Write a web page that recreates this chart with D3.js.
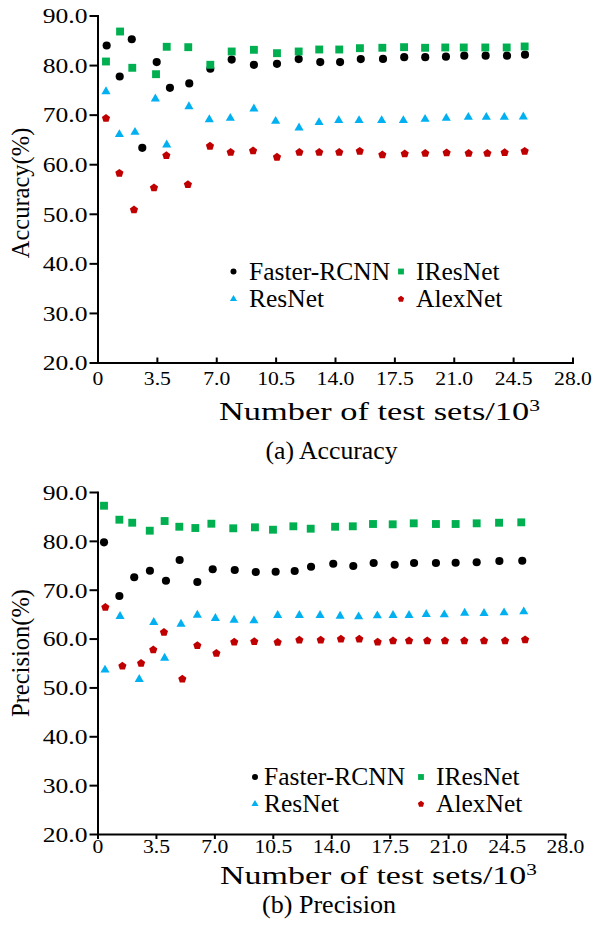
<!DOCTYPE html>
<html>
<head>
<meta charset="utf-8">
<script src="https://cdn.jsdelivr.net/npm/d3@7/dist/d3.min.js"></script>
<style>
  html, body { margin: 0; padding: 0; background: #fff; }
  svg { display: block; font-family: "Liberation Serif", "Times New Roman", serif; }
</style>
</head>
<body>
<svg id="fig" width="595" height="940"></svg>
<script>
// ---------- data ----------
const seriesNames = ["Faster-RCNN", "IResNet", "ResNet", "AlexNet"];
const xTickValues = [0, 3.5, 7, 10.5, 14, 17.5, 21, 24.5, 28];
const yTickValues = [20, 30, 40, 50, 60, 70, 80, 90];

// (a) Accuracy: x = number of test sets (thousands), y = accuracy (%)
const accFasterX = [0.54, 1.31, 2.02, 2.64, 3.49, 4.27, 5.41, 6.65, 7.91, 9.22, 10.58, 11.86, 13.13, 14.30, 15.52, 16.83, 18.08, 19.32, 20.54, 21.62, 22.88, 24.14, 25.20];
const accFasterY = [83.95, 77.7, 85.2, 63.3, 80.6, 75.4, 76.3, 79.25, 81.1, 80.05, 80.25, 81.2, 80.6, 80.6, 81.2, 81.25, 81.6, 81.6, 81.7, 81.9, 81.9, 81.9, 82.1];
const accIResX = [0.50, 1.33, 2.05, 3.45, 4.08, 5.35, 6.65, 7.91, 9.22, 10.58, 11.86, 13.07, 14.25, 15.47, 16.79, 18.07, 19.31, 20.50, 21.59, 22.86, 24.12, 25.18];
const accIResY = [80.72, 86.77, 79.45, 78.16, 83.69, 83.61, 80.06, 82.74, 83.08, 82.40, 82.74, 83.14, 83.14, 83.41, 83.49, 83.61, 83.49, 83.55, 83.55, 83.55, 83.55, 83.75];
const accResX = [0.50, 1.29, 2.21, 3.41, 4.08, 5.39, 6.59, 7.83, 9.22, 10.50, 11.88, 13.06, 14.22, 15.42, 16.75, 18.03, 19.31, 20.56, 21.86, 22.92, 23.98, 25.10];
const accResY = [74.67, 66.0, 66.46, 73.2, 63.92, 71.64, 69.02, 69.28, 71.18, 68.68, 67.35, 68.42, 68.82, 68.82, 68.82, 68.82, 69.08, 69.28, 69.48, 69.48, 69.48, 69.57];
const accAlexX = [0.50, 1.29, 2.15, 3.33, 4.06, 5.33, 6.63, 7.85, 9.17, 10.58, 11.90, 13.07, 14.25, 15.46, 16.79, 18.11, 19.32, 20.58, 21.88, 22.98, 24.00, 25.18];
const accAlexY = [69.28, 58.19, 50.80, 55.24, 61.76, 55.91, 63.64, 62.42, 62.71, 61.42, 62.42, 62.42, 62.42, 62.63, 61.90, 62.10, 62.22, 62.30, 62.22, 62.22, 62.36, 62.63];

// (b) Precision: x = number of test sets (thousands), y = precision (%)
const preFasterX = [0.39, 1.31, 2.20, 3.14, 4.10, 4.92, 5.98, 6.90, 8.22, 9.48, 10.67, 11.81, 12.79, 14.12, 15.32, 16.54, 17.80, 18.96, 20.27, 21.45, 22.71, 24.07, 25.44];
const preFasterY = [79.70, 68.71, 72.54, 73.89, 71.84, 76.08, 71.58, 74.18, 74.03, 73.62, 73.68, 73.83, 74.71, 75.32, 74.85, 75.46, 75.12, 75.46, 75.46, 75.53, 75.61, 75.87, 75.94];
const preIResX = [0.39, 1.31, 2.08, 3.13, 4.02, 4.90, 5.86, 6.82, 8.13, 9.43, 10.51, 11.73, 12.77, 14.23, 15.29, 16.50, 17.68, 18.94, 20.27, 21.45, 22.71, 24.05, 25.38];
const preIResY = [87.19, 84.33, 83.71, 82.08, 84.06, 82.89, 82.63, 83.51, 82.57, 82.77, 82.28, 82.98, 82.49, 82.89, 82.98, 83.45, 83.39, 83.59, 83.45, 83.45, 83.59, 83.71, 83.79];
const preResX = [0.45, 1.35, 2.50, 3.37, 4.02, 5.00, 5.98, 7.06, 8.18, 9.37, 10.79, 12.09, 13.33, 14.53, 15.64, 16.76, 17.70, 18.66, 19.69, 20.77, 21.99, 23.15, 24.35, 25.53];
const preResY = [53.57, 64.56, 51.66, 63.33, 56.02, 62.98, 64.82, 64.15, 63.80, 63.66, 64.76, 64.76, 64.76, 64.62, 64.47, 64.68, 64.76, 64.76, 64.97, 64.88, 65.23, 65.17, 65.29, 65.50];
const preAlexX = [0.47, 1.49, 2.61, 3.34, 3.98, 5.08, 5.98, 7.12, 8.19, 9.39, 10.79, 12.09, 13.37, 14.58, 15.68, 16.78, 17.70, 18.66, 19.75, 20.81, 21.97, 23.15, 24.41, 25.61];
const preAlexY = [66.40, 54.38, 54.94, 57.72, 61.28, 51.72, 58.58, 56.98, 59.30, 59.40, 59.23, 59.71, 59.71, 59.91, 59.91, 59.30, 59.56, 59.56, 59.56, 59.56, 59.56, 59.56, 59.56, 59.77];

// ---------- drawing ----------
const svg = d3.select("#fig");

const colors = { "Faster-RCNN": "#000000", "IResNet": "#00b050", "ResNet": "#00b0f0", "AlexNet": "#c00000" };

// regular pentagon, point up, centred on its centroid; size is area
const symbolPentagon = {
  draw(ctx, size) {
    const r = Math.sqrt(size / (2.5 * Math.sin(2 * Math.PI / 5)));
    for (let i = 0; i < 5; i++) {
      const a = -Math.PI / 2 + i * 2 * Math.PI / 5;
      const px = r * Math.cos(a), py = r * Math.sin(a);
      if (i === 0) ctx.moveTo(px, py); else ctx.lineTo(px, py);
    }
    ctx.closePath();
  }
};
const shapes = { "Faster-RCNN": d3.symbolCircle, "IResNet": d3.symbolSquare, "ResNet": d3.symbolTriangle, "AlexNet": symbolPentagon };
const markArea = { "Faster-RCNN": 52, "IResNet": 62, "ResNet": 36, "AlexNet": 44 };
const keyArea = { "Faster-RCNN": 28, "IResNet": 34, "ResNet": 22, "AlexNet": 26 };

const panels = [
  {
    yTitle: "Accuracy(%)", caption: "(a) Accuracy",
    series: [[accFasterX, accFasterY], [accIResX, accIResY], [accResX, accResY], [accAlexX, accAlexY]],
    xRange: [97.5, 572.5], yRange: [362.5, 15.5],
    xTick: -5, xLabelY: 23, yTitleCenter: 193,
    title: [219, 540, 420], cap: [265, 398, 459],
    key: { mx: [233.5, 401], tx: [249, 416], ty: [271.5, 299] }
  },
  {
    yTitle: "Precision(%)", caption: "(b) Precision",
    series: [[preFasterX, preFasterY], [preIResX, preIResY], [preResX, preResY], [preAlexX, preAlexY]],
    xRange: [97.5, 565], yRange: [834, 492],
    xTick: 5, xLabelY: 19, yTitleCenter: 653,
    title: [220, 537, 884], cap: [262, 396, 913],
    key: { mx: [255, 421], tx: [264, 436], ty: [777, 804] }
  }
];

// stretch a text horizontally so it spans [left, right]
function fitText(sel, left, right, baseline) {
  const w = sel.node().getBBox().width;
  const s = (right - left) / w;
  sel.attr("transform", `translate(${(left + right) / 2},${baseline}) scale(${s},1)`);
}

const xFmt = d => d === 0 ? "0" : d3.format(".1f")(d);

panels.forEach(p => {
  const x = d3.scaleLinear().domain([0, 28]).range(p.xRange);
  const y = d3.scaleLinear().domain([20, 90]).range(p.yRange);
  const g = svg.append("g");

  // x axis
  const xa = g.append("g")
    .attr("transform", `translate(0,${p.yRange[0]})`)
    .call(d3.axisBottom(x).tickValues(xTickValues).tickSizeInner(p.xTick).tickSizeOuter(0).tickFormat(xFmt));
  xa.attr("font-family", null).attr("font-size", null);
  xa.select(".domain").attr("stroke", "#000").attr("stroke-width", 2).attr("stroke-linecap", "square");
  xa.selectAll(".tick line").attr("stroke", "#000").attr("stroke-width", 2);
  xa.selectAll(".tick text")
    .attr("y", p.xLabelY).attr("dy", null)
    .attr("font-size", 19).attr("fill", "#000")
    .attr("transform", "scale(1.14,1)");

  // y axis
  const ya = g.append("g")
    .attr("transform", `translate(${p.xRange[0]},0)`)
    .call(d3.axisLeft(y).tickValues(yTickValues).tickSizeInner(8).tickSizeOuter(0).tickFormat(d3.format(".1f")));
  ya.attr("font-family", null).attr("font-size", null);
  ya.select(".domain").attr("stroke", "#000").attr("stroke-width", 2).attr("stroke-linecap", "square");
  ya.selectAll(".tick line").attr("stroke", "#000").attr("stroke-width", 2);
  ya.selectAll(".tick text")
    .attr("x", -10 / 1.22).attr("dy", "0.35em")
    .attr("font-size", 21).attr("fill", "#000")
    .attr("transform", "scale(1.22,1)");

  // y title
  g.append("text")
    .attr("transform", `translate(28.5,${p.yTitleCenter}) rotate(-90)`)
    .attr("text-anchor", "middle")
    .attr("font-size", 24.5)
    .text(p.yTitle);

  // x title with superscript
  const xt = g.append("text").attr("text-anchor", "middle").attr("font-size", 25.5);
  xt.append("tspan").text("Number of test sets/10");
  xt.append("tspan").attr("font-size", 16).attr("dy", "-0.55em").text("3");
  fitText(xt, p.title[0], p.title[1], p.title[2]);

  // caption
  const cp = g.append("text").attr("text-anchor", "middle").attr("font-size", 24.5).text(p.caption);
  fitText(cp, p.cap[0], p.cap[1], p.cap[2]);

  // markers
  p.series.forEach(([xs, ys], i) => {
    const name = seriesNames[i];
    g.append("g")
      .selectAll("path")
      .data(xs.map((v, j) => [v, ys[j]]))
      .join("path")
      .attr("transform", d => `translate(${x(d[0])},${y(d[1])})`)
      .attr("d", d3.symbol(shapes[name], markArea[name]))
      .attr("fill", colors[name]);
  });

  // legend, two columns by two rows
  const key = g.append("g");
  seriesNames.forEach((name, i) => {
    const col = i % 2, row = Math.floor(i / 2);
    const cy = p.key.ty[row];
    key.append("path")
      .attr("transform", `translate(${p.key.mx[col]},${cy})`)
      .attr("d", d3.symbol(shapes[name], keyArea[name]))
      .attr("fill", colors[name]);
    key.append("text")
      .attr("x", p.key.tx[col]).attr("y", cy).attr("dy", "0.33em")
      .attr("font-size", 25.5)
      .text(name);
  });
});
</script>
</body>
</html>
